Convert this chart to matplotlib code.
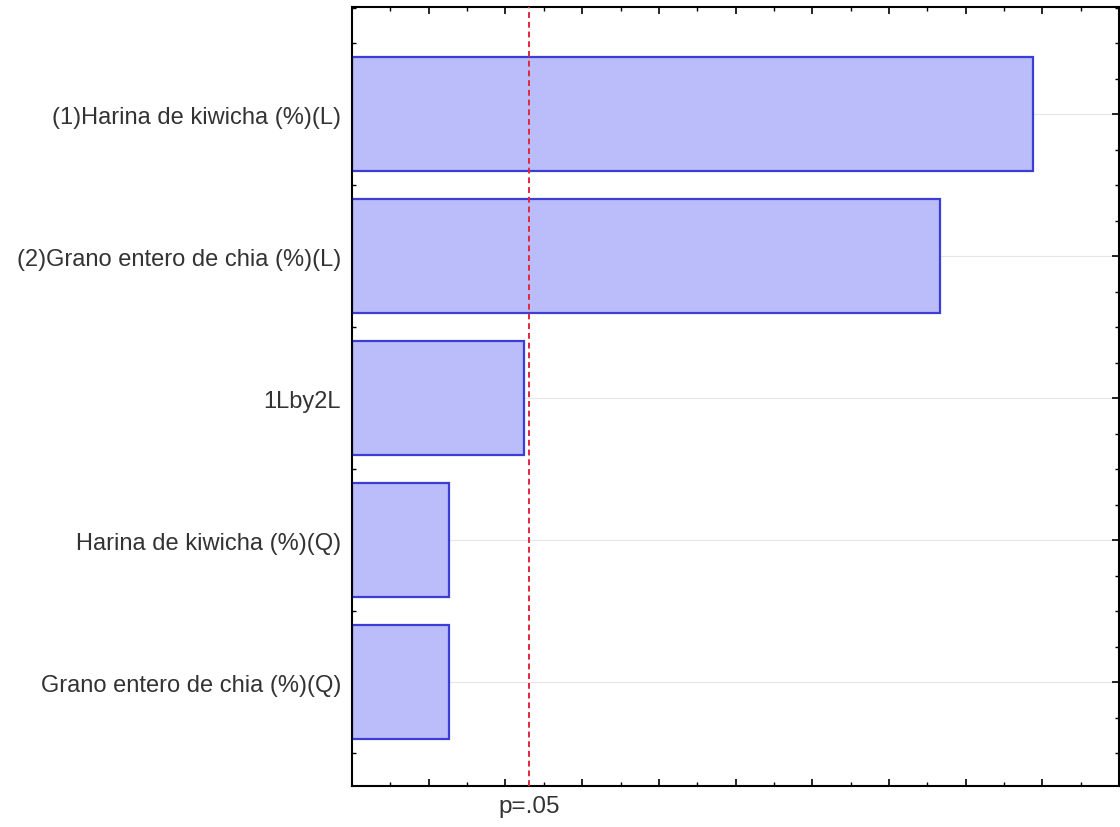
import matplotlib
matplotlib.use('Agg')
import matplotlib.pyplot as plt
from matplotlib.ticker import MultipleLocator, NullFormatter
import numpy as np

plt.rcParams['font.family'] = ['Liberation Sans', 'DejaVu Sans']

# efectos estandarizados (valor absoluto)
efectos = ['(1)Harina de kiwicha (%)(L)',
           '(2)Grano entero de chia (%)(L)',
           '1Lby2L',
           'Harina de kiwicha (%)(Q)',
           'Grano entero de chia (%)(Q)']
valores = [8.88, 7.67, 2.24, 1.26, 1.26]
p_critico = 2.306

fig = plt.figure(figsize=(11.2, 8.28), dpi=100)
ax = fig.add_axes([0.3143, 0.0495, 0.685, 0.9408])

pos = np.arange(len(efectos))
ax.barh(pos, valores, height=0.8, color='#babdfa', edgecolor='#3c3cd6',
        linewidth=1.6, zorder=2)
ax.axvline(p_critico, color='#e0283c', linestyle=(0, (3, 2)), lw=1.4, zorder=3)

ax.set_xlim(0, 10)
ax.set_ylim(4.732, -0.754)
ax.set_yticks(pos)
ax.set_yticklabels(efectos, fontsize=17, color='#333333')
ax.yaxis.set_minor_locator(MultipleLocator(0.25))
ax.xaxis.set_major_locator(MultipleLocator(1))
ax.xaxis.set_minor_locator(MultipleLocator(0.5))
ax.xaxis.set_major_formatter(NullFormatter())
ax.tick_params(which='both', direction='in', top=True, right=True)
ax.tick_params(which='major', length=5, width=1.2, pad=8)
ax.tick_params(which='minor', length=3, width=1)
ax.grid(axis='y', color='#e6e6e6', lw=0.8, zorder=0)
for s in ax.spines.values():
    s.set_linewidth(1.5)

ax.text(p_critico, -0.012, 'p=.05', transform=ax.get_xaxis_transform(),
        ha='center', va='top', fontsize=17.5, color='#333333')

fig.savefig('out.png', dpi=100)
